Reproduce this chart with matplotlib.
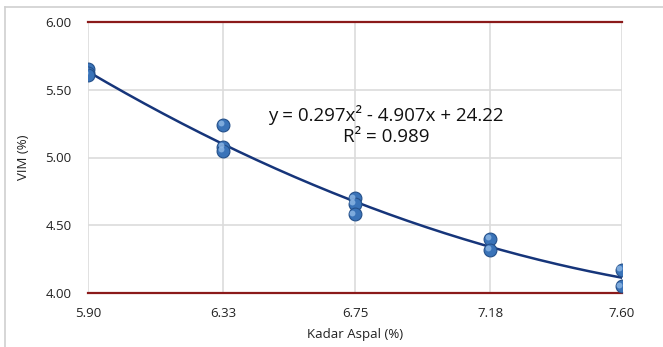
import numpy as np
import matplotlib
matplotlib.use("Agg")
import matplotlib.pyplot as plt
from matplotlib.lines import Line2D

plt.rcParams['font.family'] = ['Open Sans', 'DejaVu Sans']

# Data
kadar_aspal = [5.90, 5.90, 5.90, 6.33, 6.33, 6.33, 6.75, 6.75, 6.75, 7.18, 7.18, 7.60, 7.60]
vim = [5.65, 5.62, 5.61, 5.24, 5.08, 5.05, 4.70, 4.66, 4.58, 4.40, 4.32, 4.17, 4.05]
x_ticks = [5.90, 6.33, 6.75, 7.18, 7.60]
x_tick_labels = ["5.90", "6.33", "6.75", "7.18", "7.60"]
y_ticks = [4.00, 4.50, 5.00, 5.50, 6.00]
y_tick_labels = ["4.00", "4.50", "5.00", "5.50", "6.00"]
equation = "y = 0.297x² - 4.907x + 24.22"
r2_text = "R² = 0.989"

fig = plt.figure(figsize=(6.63, 3.47), dpi=100)
ax = fig.add_axes([88/663, 1-293/347, (622-88)/663, (293-22)/347])

# trend (fit through data)
fit = np.polyfit(kadar_aspal, vim, 2)
xs = np.linspace(min(kadar_aspal), max(kadar_aspal), 200)
ax.plot(xs, np.polyval(fit, xs), color='#16357a', lw=1.8, zorder=3)

# markers with 3D look
ax.scatter(kadar_aspal, vim, s=85, color='#3a73b8', edgecolor='#24508a', lw=0.8, zorder=4)
ax.scatter(np.array(kadar_aspal) - 0.008, np.array(vim) + 0.012, s=18, color='#8fb8e6', lw=0, zorder=5, alpha=0.8)

ax.set_xlim(5.90, 7.60)
ax.set_ylim(4.00, 6.00)
ax.set_xticks(x_ticks)
ax.set_xticklabels(x_tick_labels)
ax.set_yticks(y_ticks)
ax.set_yticklabels(y_tick_labels)
ax.tick_params(length=0, labelsize=9.5, colors='#222222', pad=10)
ax.tick_params(axis='y', pad=12)

for v in x_ticks:
    ax.axvline(v, color='#dcdcdc', lw=1.2, zorder=1)
for v in [4.5, 5.0, 5.5]:
    ax.axhline(v, color='#dcdcdc', lw=1.2, zorder=1)
for s in ax.spines.values():
    s.set_visible(False)
ax.axhline(6.00, color='#8b1a1a', lw=1.6, zorder=2, clip_on=False)
ax.axhline(4.00, color='#8b1a1a', lw=1.6, zorder=2, clip_on=False)

ax.set_xlabel("Kadar Aspal (%)", fontsize=9.5, color='#222222', labelpad=6)
ax.set_ylabel("VIM (%)", fontsize=9.5, color='#222222', labelpad=11)

ax.text(0.558, 0.657, equation, transform=ax.transAxes, fontsize=13.5, ha='center', va='center', color='#111111')
ax.text(0.558, 0.575, r2_text, transform=ax.transAxes, fontsize=13.5, ha='center', va='center', color='#111111')

# outer border fragments
fig.add_artist(Line2D([5/663, 1], [1-7/347, 1-7/347], transform=fig.transFigure, color='#d0d0d0', lw=1.2))
fig.add_artist(Line2D([5/663, 5/663], [0, 1-7/347], transform=fig.transFigure, color='#d0d0d0', lw=1.2))

fig.savefig("out.png", dpi=100)
